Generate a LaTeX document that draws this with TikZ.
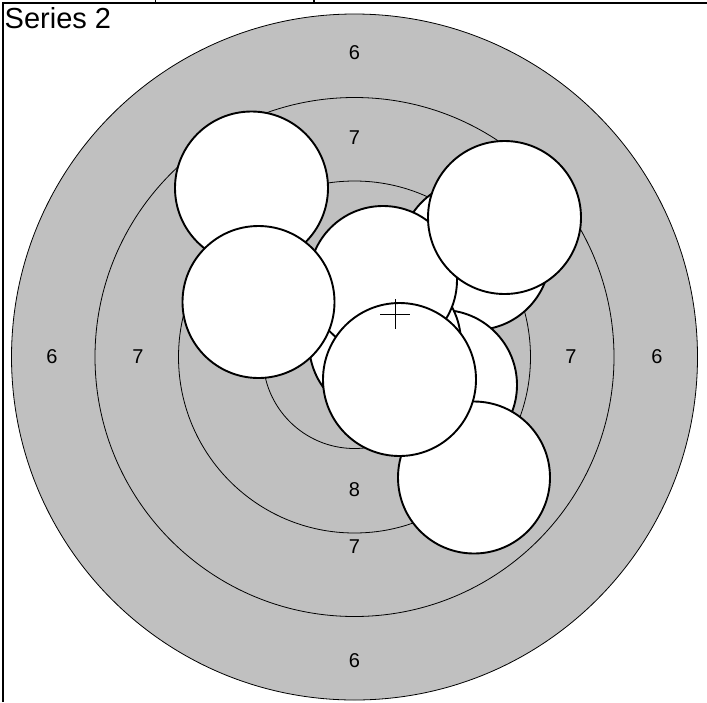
\documentclass[tikz,border=0pt]{standalone}
\usepackage{fontspec}
\setmainfont{Liberation Sans}
\definecolor{targetgray}{HTML}{C0C0C0}
\tikzset{
  ring/.style={draw=black, line width=0.8pt},
  hole/.style={draw=black, line width=1.9pt, fill=white},
  score/.style={inner sep=0pt, font=\fontsize{20}{20}\selectfont},
}
\begin{document}
\begin{tikzpicture}[x=1pt, y=-1pt]
  \useasboundingbox (0,0) rectangle (707,702);
  % frame
  \draw[line width=1.5pt] (3,702) -- (3,3) -- (707,3);
  \draw[line width=1.2pt] (155.5,0) -- (155.5,3);
  \draw[line width=1.2pt] (314,0) -- (314,3);
  \node[anchor=base west, inner sep=0pt, font=\fontsize{29}{29}\selectfont] (title) at (4.5,28.5) {Series 2};
  % target rings
  \fill[targetgray] (354.5,357) circle (343pt);
  \draw[ring] (354.5,357) circle (343pt);
  \draw[ring] (354.5,357) circle (259.5pt);
  \draw[ring] (354.5,357) circle (176pt);
  \draw[ring] (354.5,357) circle (91.5pt);
  \node[score] (s6t) at (354.5,53) {6};
  \node[score] (s6b) at (354.5,661) {6};
  \node[score] (s6l) at (52,357) {6};
  \node[score] (s6r) at (657,357) {6};
  \node[score] (s7t) at (354.5,138) {7};
  \node[score] (s7b) at (354.5,547) {7};
  \node[score] (s7l) at (138,357) {7};
  \node[score] (s7r) at (571,357) {7};
  \node[score] (s8b) at (354.5,490) {8};
  % shot holes, back to front
  \foreach \cx/\cy/\r in {475/255/75, 442/385/75, 385/343/76, 251.5/188/76.5,
                          383/280/74, 504.5/217.5/76.5, 258.5/302/76,
                          474/477.5/76, 399.5/379.5/76.5}
    \draw[hole] (\cx,\cy) circle (\r pt);
  % mean point of impact
  \coordinate (mpi) at (395.3,314.3);
  \draw[line width=1.3pt] ([xshift=-15pt]mpi) -- ([xshift=15pt]mpi);
  \draw[line width=1.3pt] ([yshift=15pt]mpi) -- ([yshift=-15pt]mpi);
\end{tikzpicture}
\end{document}
